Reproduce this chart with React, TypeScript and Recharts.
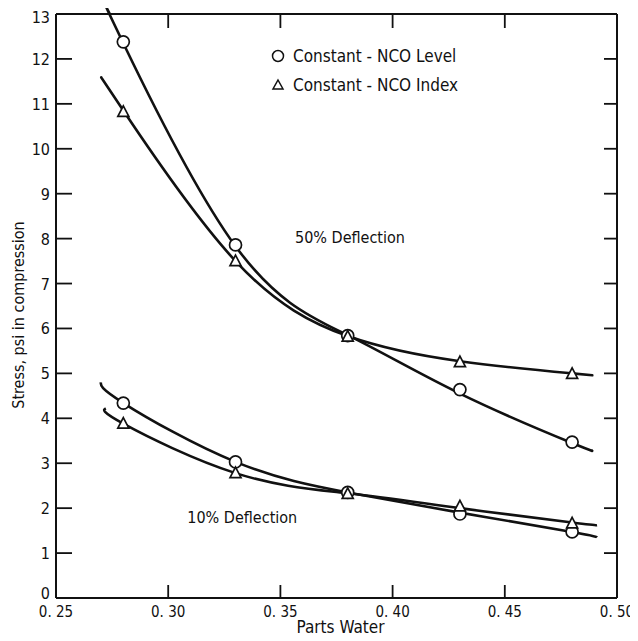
import { ComposedChart, Legend, Line, ReferenceDot, Scatter, XAxis, YAxis } from 'recharts'

const FONT = "'DejaVu Sans Condensed', 'Liberation Sans Narrow', 'DejaVu Sans', sans-serif"
const INK = '#111'

// measured points
const waterParts = [0.28, 0.33, 0.38, 0.43, 0.48]
const level50 = [12.38, 7.86, 5.84, 4.64, 3.47]
const index50 = [10.82, 7.5, 5.82, 5.25, 4.99]
const level10 = [4.34, 3.03, 2.35, 1.87, 1.47]
const index10 = [3.88, 2.78, 2.32, 2.04, 1.66]

// hand-drawn fitted curves
const level50CurveX = [0.274, 0.28, 0.33, 0.38, 0.43, 0.48, 0.4885]
const level50CurveY = [13, 12.35, 7.83, 5.85, 4.55, 3.45, 3.29]
const index50CurveX = [0.2703, 0.28, 0.33, 0.38, 0.43, 0.48, 0.4885]
const index50CurveY = [11.58, 10.85, 7.5, 5.83, 5.27, 5.0, 4.96]
const level10CurveX = [0.27, 0.28, 0.33, 0.38, 0.43, 0.48, 0.4911]
const level10CurveY = [4.8, 4.34, 3.03, 2.35, 1.9, 1.47, 1.35]
const index10CurveX = [0.2722, 0.28, 0.33, 0.38, 0.43, 0.48, 0.4911]
const index10CurveY = [4.22, 3.88, 2.78, 2.33, 2.0, 1.68, 1.62]

const xTicks = [0.25, 0.3, 0.35, 0.4, 0.45, 0.5]
const yTicks = [0, 1, 2, 3, 4, 5, 6, 7, 8, 9, 10, 11, 12, 13]

const toPoints = (xs: number[], ys: number[]) => xs.map((x, i) => ({ x, y: ys[i] }))

function CircleMark(props: any) {
  const { cx, cy } = props
  return <circle cx={cx} cy={cy} r={6} fill="#fff" stroke={INK} strokeWidth={1.7} />
}

function TriangleMark(props: any) {
  const { cx, cy } = props
  return (
    <path
      d={`M${cx},${cy - 6} L${cx + 5.5},${cy + 4.5} L${cx - 5.5},${cy + 4.5} Z`}
      fill="#fff"
      stroke={INK}
      strokeWidth={1.7}
    />
  )
}

// inward tick marks on all four sides of the frame
const TICK_DIR: Record<string, [number, number]> = { b: [0, -13], t: [0, 14], l: [16, 0], r: [-13, 0] }
function FrameTick(props: any) {
  const { cx, cy, payload } = props
  const [dx, dy] = TICK_DIR[payload.side]
  return <path d={`M${cx},${cy}l${dx},${dy}`} stroke={INK} strokeWidth={1.8} fill="none" />
}

function BottomTick(props: any) {
  const x = Number(props.x)
  const y = Number(props.y)
  return (
    <text x={x} y={y + 19} textAnchor="middle" fontSize={15} fontFamily={FONT} fill={INK}>
      {props.payload.value.toFixed(2).replace('.', '. ')}
    </text>
  )
}

function LeftTick(props: any) {
  const x = Number(props.x)
  const y = Number(props.y)
  const v = props.payload.value
  return (
    <text x={x - 6} y={y + (v === 0 ? 1 : 6)} textAnchor="end" fontSize={16} fontFamily={FONT} fill={INK}>
      {v}
    </text>
  )
}

function KeyBox() {
  const row = { display: 'flex', alignItems: 'center', height: 29 }
  return (
    <div style={{ fontFamily: FONT, fontSize: 17, color: INK }}>
      <div style={row}>
        <svg width={14} height={14}>
          <circle cx={7} cy={7} r={5.5} fill="#fff" stroke={INK} strokeWidth={1.5} />
        </svg>
        <span style={{ marginLeft: 8 }}>Constant - NCO Level</span>
      </div>
      <div style={row}>
        <svg width={14} height={14}>
          <path d="M7,2 L12,11 L2,11 Z" fill="#fff" stroke={INK} strokeWidth={1.5} />
        </svg>
        <span style={{ marginLeft: 8 }}>Constant - NCO Index</span>
      </div>
    </div>
  )
}

const noteLabel = (value: string) => ({ value, position: 'center' as const, fontSize: 16, fill: INK, fontFamily: FONT })

export default function App() {
  const innerX = xTicks.slice(1, -1)
  const innerY = yTicks.slice(1, -1)
  const xMin = xTicks[0]
  const xMax = xTicks[xTicks.length - 1]
  const yMin = yTicks[0]
  const yMax = yTicks[yTicks.length - 1]
  const frameTicks = [
    ...innerX.map((x) => ({ x, y: yMin, side: 'b' })),
    ...innerX.map((x) => ({ x, y: yMax, side: 't' })),
    ...innerY.map((y) => ({ x: xMin, y, side: 'l' })),
    ...innerY.map((y) => ({ x: xMax, y, side: 'r' })),
  ]
  return (
    <ComposedChart width={630} height={633} margin={{ top: 5, right: 20, bottom: 0, left: 0 }}>
      <XAxis
        xAxisId="b"
        type="number"
        dataKey="x"
        domain={[0.25, 0.5]}
        ticks={xTicks}
        tick={<BottomTick />}
        tickLine={false}
        tickSize={0}
        tickMargin={0}
        stroke={INK}
        strokeWidth={2}
        height={43}
        label={(p: any) => (
          <text
            x={p.viewBox.x + p.viewBox.width / 2 + 4}
            y={p.viewBox.y + 35}
            textAnchor="middle"
            fontSize={17}
            fontFamily={FONT}
            fill={INK}
          >
            Parts Water
          </text>
        )}
      />
      <XAxis xAxisId="t" orientation="top" type="number" dataKey="x" domain={[0.25, 0.5]} ticks={xTicks} tick={false} tickLine={false} stroke={INK} strokeWidth={2} height={1} />
      <YAxis
        yAxisId="l"
        type="number"
        dataKey="y"
        domain={[0, 13]}
        ticks={yTicks}
        tick={<LeftTick />}
        tickLine={false}
        tickSize={0}
        tickMargin={0}
        stroke={INK}
        strokeWidth={2}
        width={48}
        label={(p: any) => (
          <text
            transform={`translate(${p.viewBox.x + 16}, ${p.viewBox.y + p.viewBox.height / 2 + 9}) rotate(-90)`}
            textAnchor="middle"
            fontSize={16}
            fontFamily={FONT}
            fill={INK}
          >
            Stress, psi in compression
          </text>
        )}
      />
      <YAxis yAxisId="r" orientation="right" type="number" dataKey="y" domain={[0, 13]} ticks={yTicks} tick={false} tickLine={false} stroke={INK} strokeWidth={2} width={1} />
      <Legend
        layout="vertical"
        align="center"
        verticalAlign="middle"
        content={() => <KeyBox />}
        wrapperStyle={{ left: 263, top: 33, width: 240, height: 60 }}
      />
      <Scatter xAxisId="b" yAxisId="l" data={frameTicks} dataKey="y" shape={FrameTick} isAnimationActive={false} legendType="none" />
      <Line xAxisId="b" yAxisId="l" data={toPoints(level50CurveX, level50CurveY)} dataKey="y" type="natural" stroke={INK} strokeWidth={2.6} dot={false} isAnimationActive={false} legendType="none" />
      <Line xAxisId="b" yAxisId="l" data={toPoints(index50CurveX, index50CurveY)} dataKey="y" type="natural" stroke={INK} strokeWidth={2.6} dot={false} isAnimationActive={false} legendType="none" />
      <Line xAxisId="b" yAxisId="l" data={toPoints(level10CurveX, level10CurveY)} dataKey="y" type="natural" stroke={INK} strokeWidth={2.6} dot={false} isAnimationActive={false} legendType="none" />
      <Line xAxisId="b" yAxisId="l" data={toPoints(index10CurveX, index10CurveY)} dataKey="y" type="natural" stroke={INK} strokeWidth={2.6} dot={false} isAnimationActive={false} legendType="none" />
      <Scatter xAxisId="b" yAxisId="l" name="Constant - NCO Level" data={toPoints(waterParts, level50)} dataKey="y" shape={<CircleMark />} isAnimationActive={false} />
      <Scatter xAxisId="b" yAxisId="l" name="Constant - NCO Index" data={toPoints(waterParts, index50)} dataKey="y" shape={<TriangleMark />} isAnimationActive={false} />
      <Scatter xAxisId="b" yAxisId="l" data={toPoints(waterParts, level10)} dataKey="y" shape={<CircleMark />} isAnimationActive={false} legendType="none" />
      <Scatter xAxisId="b" yAxisId="l" data={toPoints(waterParts, index10)} dataKey="y" shape={<TriangleMark />} isAnimationActive={false} legendType="none" />
      <ReferenceDot xAxisId="b" yAxisId="l" x={0.381} y={8.02} r={0} label={noteLabel('50% Deflection')} />
      <ReferenceDot xAxisId="b" yAxisId="l" x={0.333} y={1.8} r={0} label={noteLabel('10% Deflection')} />
    </ComposedChart>
  )
}
